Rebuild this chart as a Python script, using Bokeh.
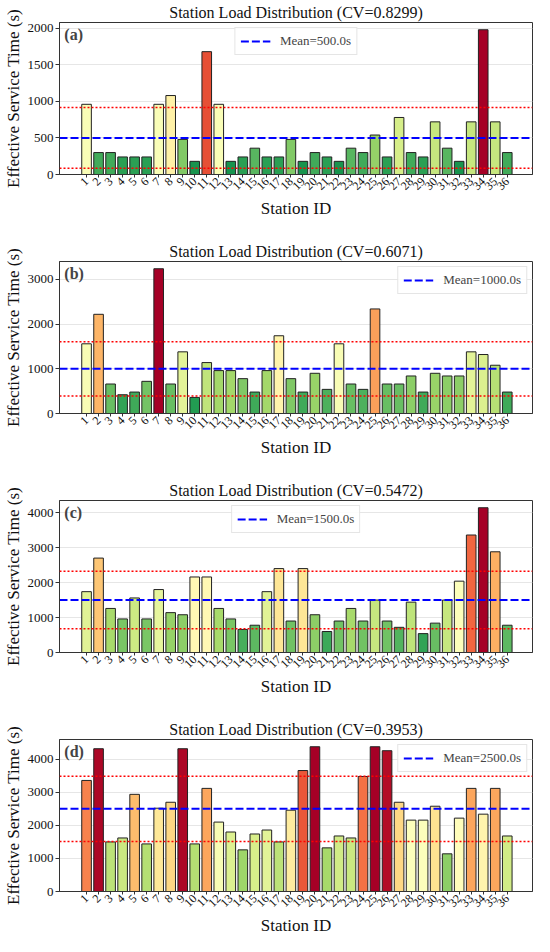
import numpy as np
from bokeh.plotting import figure
from bokeh.models import Range1d, FixedTicker, Span, Label, Legend, LegendItem, ColumnDataSource
from bokeh.layouts import column
from bokeh.embed import file_html
from bokeh.resources import INLINE

# ---------------- data ----------------
stations = list(range(1, 37))
station_labels = [str(s) for s in stations]

load_a = [960, 300, 300, 240, 240, 240, 960, 1080, 480, 180, 1680, 960,
          180, 240, 360, 240, 240, 480, 180, 300, 240, 180, 360, 300,
          540, 240, 780, 300, 240, 720, 360, 180, 720, 1980, 720, 300]
load_b = [1560, 2220, 660, 420, 480, 720, 3240, 660, 1380, 360, 1140, 960,
          960, 780, 480, 960, 1740, 780, 480, 900, 540, 1560, 660, 540,
          2340, 660, 660, 840, 480, 900, 840, 840, 1380, 1320, 1080, 480]
load_c = [1740, 2700, 1260, 960, 1560, 960, 1800, 1140, 1080, 2160, 2160, 1260,
          960, 660, 780, 1740, 2400, 900, 2400, 1080, 600, 900, 1260, 900,
          1500, 900, 720, 1440, 540, 840, 1500, 2040, 3360, 4140, 2880, 780]
load_d = [3360, 4320, 1500, 1620, 2940, 1440, 2520, 2700, 4320, 1440, 3120, 2100,
          1800, 1260, 1740, 1860, 1500, 2460, 3660, 4380, 1320, 1680, 1620, 3480,
          4380, 4260, 2700, 2160, 2160, 2580, 1140, 2220, 3120, 2340, 3120, 1680]

cv_labels = ["0.8299", "0.6071", "0.5472", "0.3953"]
panel_tags = ["(a)", "(b)", "(c)", "(d)"]
y_ticks_a = [0, 500, 1000, 1500, 2000]
y_ticks_b = [0, 1000, 2000, 3000]
y_ticks_c = [0, 1000, 2000, 3000, 4000]
y_ticks_d = [0, 1000, 2000, 3000, 4000]
legend_spots = ["top_center", "top_right", "top_center", "top_right"]

RDYLGN = ["#a50026", "#d73027", "#f46d43", "#fdae61", "#fee08b", "#ffffbf",
          "#d9ef8b", "#a6d96a", "#66bd63", "#1a9850", "#006837"]

FONT = "Liberation Serif"
X_LO, X_HI = -1.25, 38.1


def cmap_r(t):
    anchors = RDYLGN[::-1]
    t = min(max(t, 0.0), 1.0)
    pos = t * 10
    i = min(int(pos), 9)
    f = pos - i
    c0 = [int(anchors[i][k:k + 2], 16) for k in (1, 3, 5)]
    c1 = [int(anchors[i + 1][k:k + 2], 16) for k in (1, 3, 5)]
    c = [round(a + (b - a) * f) for a, b in zip(c0, c1)]
    return "#%02x%02x%02x" % tuple(c)


def make_panel(values, cv, tag, yticks, legend_loc, height, bottom):
    vals = np.array(values, dtype=float)
    mean = vals.mean()
    std = vals.std()
    vmax = vals.max()
    colors = [cmap_r(v / vmax) for v in vals]
    src = ColumnDataSource(dict(x=stations, top=values, color=colors))
    xr = Range1d(X_LO, X_HI)
    yr = Range1d(0, vmax * 1.05)
    p = figure(width=534, height=height, x_range=xr, y_range=yr,
               output_backend="svg", toolbar_location=None,
               min_border_left=52, min_border_right=2,
               min_border_top=22, min_border_bottom=bottom,
               title="Station Load Distribution (CV=%s)" % cv)
    p.title.text_font = FONT
    p.title.text_font_size = "16px"
    p.title.text_font_style = "normal"
    p.title.align = "center"
    p.title.standoff = 3
    p.title.text_color = "#111111"

    p.vbar(x="x", top="top", bottom=0, width=0.8, source=src,
           fill_color="color", line_color="#222222", line_width=1)

    mean_r = p.line(x=[X_LO, X_HI], y=[mean, mean], line_color="#0000ff",
                    line_dash="8 3", line_width=2)

    for yv in (mean + std, mean - std):
        p.add_layout(Span(location=yv, dimension="width", line_color="#ff0000",
                          line_dash="2 2", line_width=1.5))

    legend = Legend(items=[LegendItem(label="Mean=%.1fs" % mean, renderers=[mean_r])],
                    location=legend_loc)
    legend.label_text_font = FONT
    legend.label_text_font_size = "13px"
    legend.border_line_color = "#cccccc"
    legend.border_line_width = 1
    legend.background_fill_alpha = 0.85
    legend.glyph_width = 30
    legend.glyph_height = 14
    legend.padding = 5
    legend.margin = 5
    legend.label_standoff = 10
    p.add_layout(legend)

    p.add_layout(Label(x=-0.85, y=yr.end * 0.975, text=tag, text_font=FONT,
                       text_font_size="16px", text_font_style="bold",
                       text_baseline="top", text_align="left"))

    p.xaxis.ticker = FixedTicker(ticks=stations)
    p.xaxis.major_label_overrides = {s: l for s, l in zip(stations, station_labels)}
    p.xaxis.major_label_orientation = np.pi / 4
    p.yaxis.ticker = FixedTicker(ticks=yticks)
    p.xaxis.axis_label = "Station ID"
    p.yaxis.axis_label = "Effective Service Time (s)"
    for ax in (p.xaxis[0], p.yaxis[0]):
        ax.axis_label_text_font = FONT
        ax.axis_label_text_font_size = "17px"
        ax.axis_label_text_font_style = "normal"
        ax.axis_label_text_color = "#111111"
        ax.axis_label_standoff = 2
        ax.major_label_text_font = FONT
        ax.major_label_text_color = "#111111"
        ax.major_label_standoff = 2
        ax.minor_tick_line_color = None
        ax.axis_line_color = "#333333"
        ax.major_tick_line_color = "#333333"
        ax.major_tick_out = 4
        ax.major_tick_in = 0
    p.xaxis[0].major_label_text_font_size = "12px"
    p.yaxis[0].major_label_text_font_size = "13px"
    p.xaxis[0].major_tick_out = 3

    p.xgrid.visible = False
    p.ygrid.grid_line_color = "#e6e6e6"
    p.ygrid.grid_line_width = 1
    p.outline_line_color = "#333333"
    p.outline_line_width = 1
    p.background_fill_color = "white"
    return p


p1 = make_panel(load_a, cv_labels[0], panel_tags[0], y_ticks_a, legend_spots[0], 239, 65)
p2 = make_panel(load_b, cv_labels[1], panel_tags[1], y_ticks_b, legend_spots[1], 239, 65)
p3 = make_panel(load_c, cv_labels[2], panel_tags[2], y_ticks_c, legend_spots[2], 239, 65)
p4 = make_panel(load_d, cv_labels[3], panel_tags[3], y_ticks_d, legend_spots[3], 220, 46)

layout = column(p1, p2, p3, p4, spacing=0)
open("out.html", "w").write(file_html(layout, INLINE))
